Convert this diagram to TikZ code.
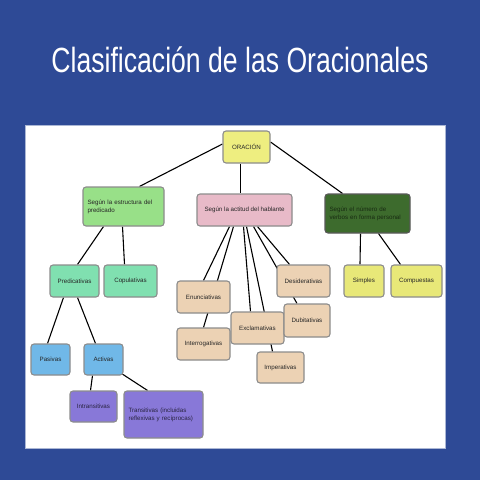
\documentclass[tikz,border=0pt]{standalone}
\usepackage{fontspec}
\setmainfont{Liberation Sans}
\usetikzlibrary{backgrounds}
\definecolor{fondo}{RGB}{46,74,150}
\definecolor{amarillo}{RGB}{238,238,128}
\definecolor{verdeclaro}{RGB}{152,224,136}
\definecolor{rosa}{RGB}{232,186,200}
\definecolor{verdeosc}{RGB}{61,107,45}
\definecolor{aguamar}{RGB}{128,224,176}
\definecolor{celeste}{RGB}{112,184,232}
\definecolor{morado}{RGB}{136,120,216}
\definecolor{beige}{RGB}{236,210,180}
\definecolor{limon}{RGB}{232,232,120}
\tikzset{
  caja/.style={draw=gray!90, line width=1.1pt, rounded corners=3pt, inner sep=2pt,
    font=\fontsize{6.2}{8}\selectfont, text=black!85, align=center},
  rama/.style={line width=1.1pt, black}
}
\begin{document}
\begin{tikzpicture}[x=1pt,y=-1pt]
  \useasboundingbox (0,0) rectangle (480,480);

  % titulo
  \node[text=white, font=\fontsize{35}{40}\selectfont] (titulo) at (240,60)
    {\scalebox{0.76}[1]{Clasificación de las Oracionales}};

  % nivel 1
  \node[caja, fill=amarillo, minimum width=47, minimum height=32] (orac) at (246.5,147) {ORACIÓN};

  % nivel 2
  \node[caja, fill=verdeclaro, minimum width=81, minimum height=39, text width=72, align=left] (estr) at (123.5,206.5)
    {Según la estructura del\\predicado};
  \node[caja, fill=rosa, minimum width=95, minimum height=32] (actit) at (244.5,210) {Según la actitud del hablante};
  \node[caja, fill=verdeosc, draw=gray!70!black, minimum width=85, minimum height=39, text width=76, align=left,
    text=verdeosc!40!black] (num) at (367.5,213.5) {Según el número de\\verbos en forma personal};

  % estructura del predicado
  \node[caja, fill=aguamar, minimum width=49, minimum height=32] (pred) at (74.5,281) {Predicativas};
  \node[caja, fill=aguamar, minimum width=53, minimum height=32] (copu) at (130.5,281) {Copulativas};
  \node[caja, fill=celeste, minimum width=39, minimum height=31] (pasiv) at (50.5,359.5) {Pasivas};
  \node[caja, fill=celeste, minimum width=39, minimum height=31] (activ) at (103.5,359.5) {Activas};
  \node[caja, fill=morado, minimum width=47, minimum height=31, text=morado!30!black] (intr) at (93.5,406.5) {Intransitivas};
  \node[caja, fill=morado, minimum width=79, minimum height=47, text width=70, align=left,
    text=morado!30!black] (trans) at (163.5,414.5) {Transitivas (incluidas\\reflexivas y recíprocas)\\[6pt]};

  % actitud del hablante
  \node[caja, fill=beige, minimum width=53, minimum height=32] (enun) at (203.5,297) {Enunciativas};
  \node[caja, fill=beige, minimum width=53, minimum height=32] (inter) at (203.5,344) {Interrogativas};
  \node[caja, fill=beige, minimum width=53, minimum height=32] (excl) at (257.5,328) {Exclamativas};
  \node[caja, fill=beige, minimum width=47, minimum height=31] (imper) at (280.5,367.5) {Imperativas};
  \node[caja, fill=beige, minimum width=53, minimum height=32] (desid) at (303.5,281) {Desiderativas};
  \node[caja, fill=beige, minimum width=46, minimum height=33] (dubit) at (307,320.5) {Dubitativas};

  % numero de verbos
  \node[caja, fill=limon, minimum width=40, minimum height=32] (simp) at (364,281) {Simples};
  \node[caja, fill=limon, minimum width=51, minimum height=32] (comp) at (416.5,281) {Compuestas};

  \begin{pgfonlayer}{background}
    \fill[fondo] (0,0) rectangle (480,480);
    \filldraw[fill=white, draw=fondo!40] (25,125) rectangle (445,448);

    \draw[rama] ([yshift=3pt]orac.west) -- ([xshift=16pt]estr.north);
    \draw[rama] ([xshift=-6pt]orac.south) -- ([xshift=-4pt]actit.north);
    \draw[rama] ([yshift=5pt]orac.east) -- ([xshift=-25pt]num.north);

    \draw[rama] ([xshift=-20pt]estr.south) -- ([xshift=3pt]pred.north);
    \draw[rama] ([xshift=-1pt]estr.south) -- ([xshift=-6pt]copu.north);
    \draw[rama] ([xshift=-11pt]pred.south) -- ([xshift=-3pt]pasiv.north);
    \draw[rama] ([xshift=3pt]pred.south) -- ([xshift=-8pt]activ.north);
    \draw[rama] ([xshift=-11pt]activ.south) -- ([xshift=-3pt]intr.north);
    \draw[rama] ([xshift=-2pt,yshift=2pt]activ.south east) -- ([xshift=-16pt]trans.north);

    \draw[rama] ([xshift=-15pt]actit.south) -- (enun.north);
    \draw[rama] ([xshift=-11pt]actit.south) -- (inter.north);
    \draw[rama] ([xshift=-1pt]actit.south) -- ([xshift=-7pt]excl.north);
    \draw[rama] ([xshift=2pt]actit.south) -- ([xshift=-8pt]imper.north);
    \draw[rama] ([xshift=9pt]actit.south) -- ([xshift=-10pt]dubit.north);
    \draw[rama] ([xshift=13pt]actit.south) -- ([xshift=-14pt]desid.north);

    \draw[rama] ([xshift=-7pt]num.south) -- ([xshift=-4pt]simp.north);
    \draw[rama] ([xshift=11pt]num.south) -- ([xshift=-16pt]comp.north);
  \end{pgfonlayer}
\end{tikzpicture}
\end{document}
